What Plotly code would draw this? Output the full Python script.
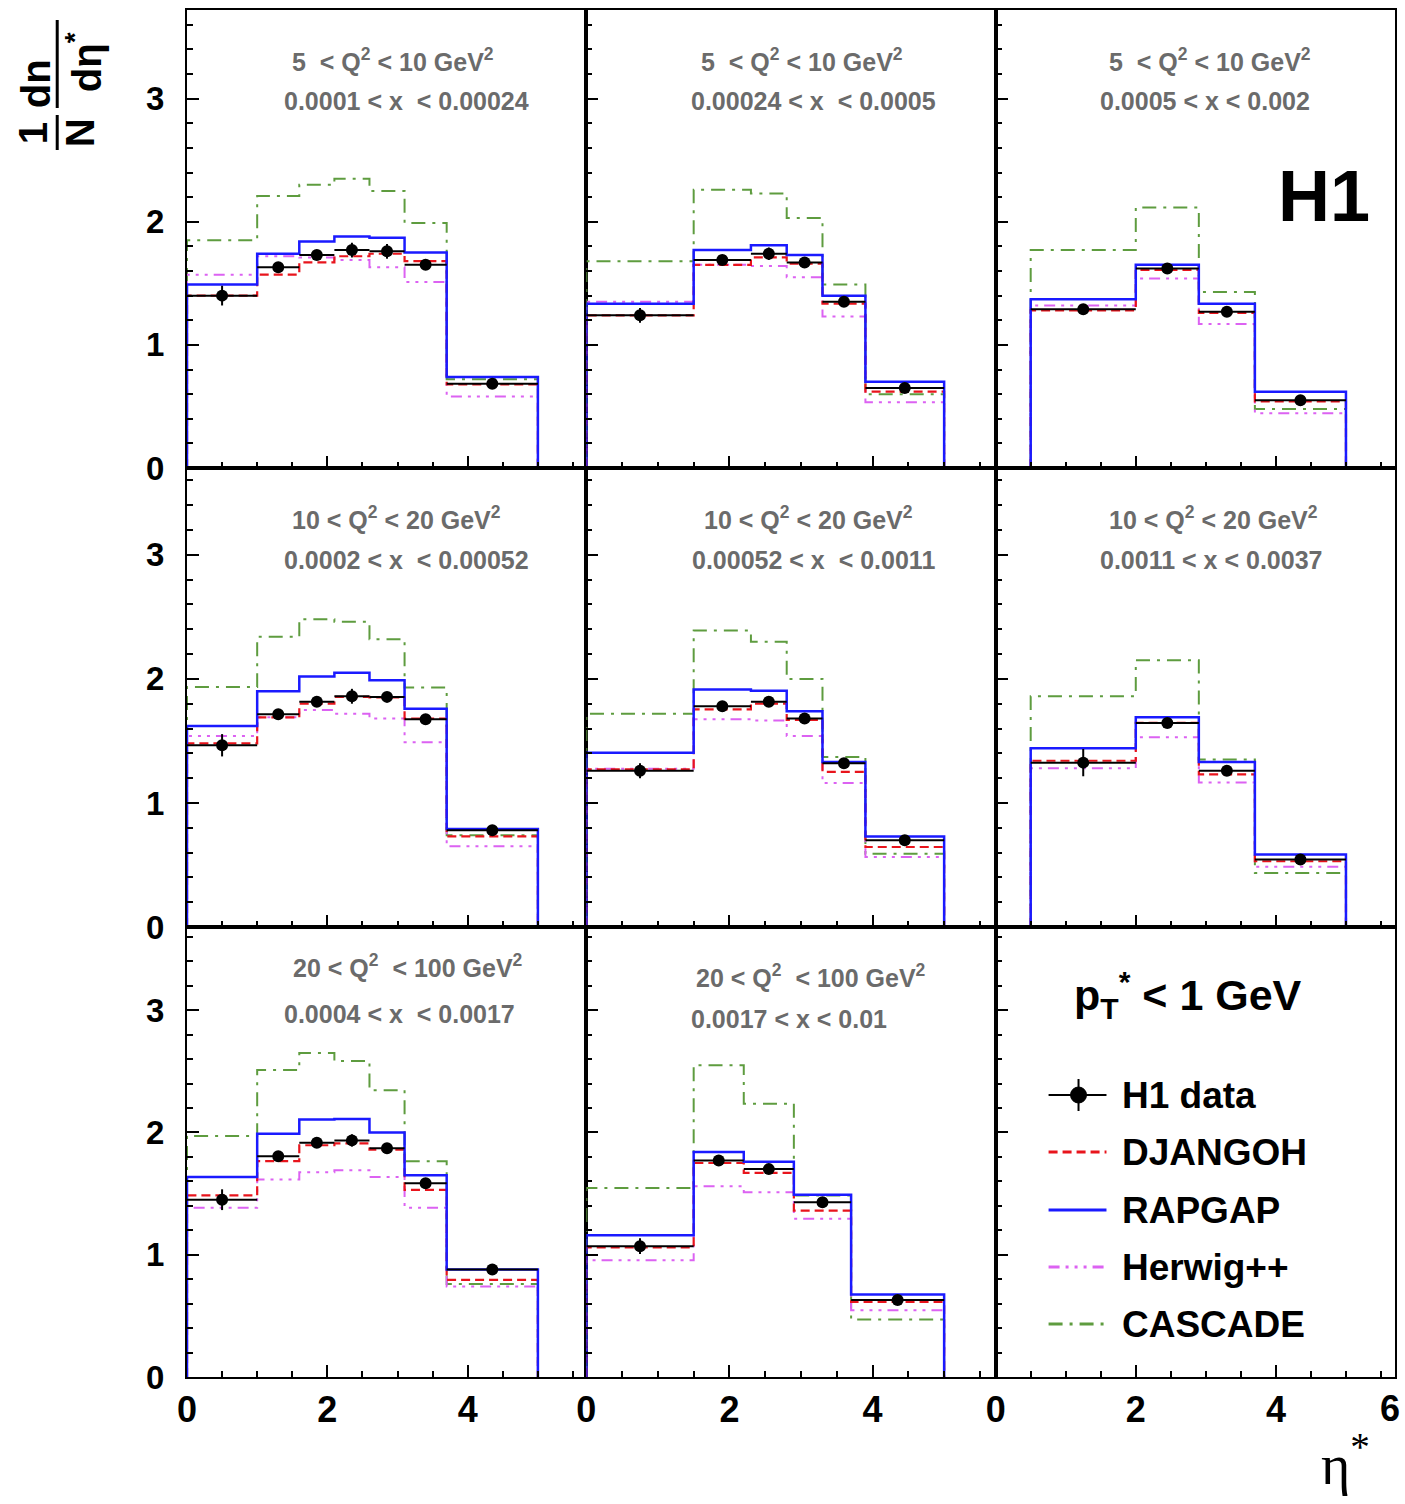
import plotly.graph_objects as go
from plotly.subplots import make_subplots

# ---------------------------------------------------------------------------
# eta* bin edges (differ per x range)
edges_lowx = [0.0, 1.0, 1.6, 2.1, 2.6, 3.1, 3.7, 5.0]
edges_midx = [0.0, 1.5, 2.3, 2.8, 3.3, 3.9, 5.0]
edges_highx = [0.5, 2.0, 2.9, 3.7, 5.0]
edges_q3_highx = [0.0, 1.5, 2.2, 2.9, 3.7, 5.0]

# 5 < Q2 < 10 GeV2, 0.0001 < x < 0.00024
data_1 = [1.40, 1.63, 1.73, 1.77, 1.76, 1.65, 0.685]
err_1 = [0.08, 0.04, 0.04, 0.06, 0.06, 0.03, 0.02]
djangoh_1 = [1.40, 1.57, 1.67, 1.72, 1.74, 1.68, 0.68]
rapgap_1 = [1.49, 1.74, 1.84, 1.88, 1.87, 1.75, 0.74]
herwig_1 = [1.57, 1.72, 1.71, 1.69, 1.63, 1.51, 0.58]
cascade_1 = [1.85, 2.21, 2.30, 2.35, 2.25, 1.99, 0.72]

# 5 < Q2 < 10 GeV2, 0.00024 < x < 0.0005
data_2 = [1.24, 1.69, 1.74, 1.67, 1.35, 0.65]
err_2 = [0.06, 0.04, 0.05, 0.04, 0.04, 0.03]
djangoh_2 = [1.24, 1.65, 1.71, 1.66, 1.335, 0.62]
rapgap_2 = [1.335, 1.77, 1.81, 1.73, 1.40, 0.70]
herwig_2 = [1.35, 1.65, 1.64, 1.55, 1.23, 0.535]
cascade_2 = [1.68, 2.26, 2.23, 2.03, 1.49, 0.60]

# 5 < Q2 < 10 GeV2, 0.0005 < x < 0.002
data_3 = [1.29, 1.62, 1.27, 0.55]
err_3 = [0.04, 0.03, 0.03, 0.02]
djangoh_3 = [1.28, 1.61, 1.26, 0.54]
rapgap_3 = [1.37, 1.65, 1.335, 0.62]
herwig_3 = [1.32, 1.54, 1.17, 0.445]
cascade_3 = [1.77, 2.115, 1.43, 0.48]

# 10 < Q2 < 20 GeV2, 0.0002 < x < 0.00052
data_4 = [1.465, 1.715, 1.815, 1.86, 1.855, 1.675, 0.78]
err_4 = [0.09, 0.04, 0.04, 0.06, 0.04, 0.03, 0.02]
djangoh_4 = [1.48, 1.69, 1.80, 1.855, 1.85, 1.68, 0.73]
rapgap_4 = [1.62, 1.90, 2.02, 2.05, 1.99, 1.76, 0.79]
herwig_4 = [1.54, 1.69, 1.75, 1.72, 1.68, 1.49, 0.65]
cascade_4 = [1.935, 2.34, 2.48, 2.46, 2.32, 1.93, 0.74]

# 10 < Q2 < 20 GeV2, 0.00052 < x < 0.0011
data_5 = [1.26, 1.78, 1.815, 1.68, 1.32, 0.70]
err_5 = [0.06, 0.04, 0.04, 0.04, 0.04, 0.03]
djangoh_5 = [1.27, 1.755, 1.80, 1.67, 1.25, 0.645]
rapgap_5 = [1.405, 1.915, 1.905, 1.74, 1.33, 0.73]
herwig_5 = [1.275, 1.675, 1.665, 1.54, 1.16, 0.565]
cascade_5 = [1.72, 2.39, 2.30, 2.00, 1.37, 0.59]

# 10 < Q2 < 20 GeV2, 0.0011 < x < 0.0037
data_6 = [1.325, 1.645, 1.26, 0.545]
err_6 = [0.11, 0.03, 0.03, 0.02]
djangoh_6 = [1.34, 1.645, 1.23, 0.53]
rapgap_6 = [1.44, 1.69, 1.33, 0.585]
herwig_6 = [1.28, 1.53, 1.165, 0.485]
cascade_6 = [1.86, 2.15, 1.35, 0.435]

# 20 < Q2 < 100 GeV2, 0.0004 < x < 0.0017
data_7 = [1.45, 1.805, 1.915, 1.935, 1.87, 1.585, 0.88]
err_7 = [0.085, 0.04, 0.04, 0.05, 0.04, 0.03, 0.02]
djangoh_7 = [1.485, 1.765, 1.895, 1.91, 1.86, 1.53, 0.795]
rapgap_7 = [1.635, 1.99, 2.105, 2.11, 2.00, 1.65, 0.88]
herwig_7 = [1.385, 1.615, 1.675, 1.69, 1.635, 1.385, 0.74]
cascade_7 = [1.97, 2.51, 2.65, 2.585, 2.345, 1.765, 0.76]

# 20 < Q2 < 100 GeV2, 0.0017 < x < 0.01
data_8 = [1.07, 1.77, 1.70, 1.43, 0.63]
err_8 = [0.065, 0.04, 0.04, 0.04, 0.02]
djangoh_8 = [1.06, 1.75, 1.67, 1.36, 0.615]
rapgap_8 = [1.16, 1.84, 1.76, 1.49, 0.675]
herwig_8 = [0.955, 1.56, 1.51, 1.295, 0.545]
cascade_8 = [1.545, 2.55, 2.235, 1.485, 0.47]

q2_labels = ["5  < Q<sup>2</sup> < 10 GeV<sup>2</sup>",
             "10 < Q<sup>2</sup> < 20 GeV<sup>2</sup>",
             "20 < Q<sup>2</sup>  < 100 GeV<sup>2</sup>"]
x_labels = ["0.0001 < x  < 0.00024", "0.00024 < x  < 0.0005", "0.0005 < x < 0.002",
            "0.0002 < x  < 0.00052", "0.00052 < x  < 0.0011", "0.0011 < x < 0.0037",
            "0.0004 < x  < 0.0017", "0.0017 < x < 0.01"]

panels = [
    (1, 1, edges_lowx, data_1, err_1, djangoh_1, rapgap_1, herwig_1, cascade_1),
    (1, 2, edges_midx, data_2, err_2, djangoh_2, rapgap_2, herwig_2, cascade_2),
    (1, 3, edges_highx, data_3, err_3, djangoh_3, rapgap_3, herwig_3, cascade_3),
    (2, 1, edges_lowx, data_4, err_4, djangoh_4, rapgap_4, herwig_4, cascade_4),
    (2, 2, edges_midx, data_5, err_5, djangoh_5, rapgap_5, herwig_5, cascade_5),
    (2, 3, edges_highx, data_6, err_6, djangoh_6, rapgap_6, herwig_6, cascade_6),
    (3, 1, edges_lowx, data_7, err_7, djangoh_7, rapgap_7, herwig_7, cascade_7),
    (3, 2, edges_q3_highx, data_8, err_8, djangoh_8, rapgap_8, herwig_8, cascade_8),
]

# ---------------------------------------------------------------------------
FONT = "Liberation Sans, Arial, Helvetica, sans-serif"
W, H = 1405, 1504
ML, MR, MT, MB = 187, 8, 10, 127
col_w = [400, 410, 400]
row_h = [458, 459, 450]
x_ranges = [[0, 5.69], [0, 5.72], [0, 5.70]]
y_ranges = [[0, 3.72], [0, 3.70], [0, 3.68]]
PW = W - ML - MR
PH = H - MT - MB

styles = {
    "CASCADE": dict(color="#5e9c3f", width=2, dash="14px,7px,3px,7px"),
    "Herwig++": dict(color="#dc62f2", width=2, dash="11px,6px,3px,6px,3px,6px,3px,6px"),
    "DJANGOH": dict(color="#e8141c", width=2.2, dash="9px,5px"),
    "RAPGAP": dict(color="#1a1aff", width=2.5, dash="solid"),
}


def px(x):
    return (x - ML) / PW


def py(y):
    return (H - MB - y) / PH


def step_xy(edges, vals):
    xs = [edges[0]] + list(edges)
    ys = [0] + list(vals) + [0]
    return xs, ys


fig = make_subplots(rows=3, cols=3, column_widths=col_w, row_heights=row_h,
                    horizontal_spacing=0, vertical_spacing=0)

for (r, c, edges, data, err, dj, rg, hw, cs) in panels:
    for name, vals in (("CASCADE", cs), ("Herwig++", hw), ("DJANGOH", dj), ("RAPGAP", rg)):
        xs, ys = step_xy(edges, vals)
        fig.add_trace(go.Scatter(x=xs, y=ys, mode="lines", line_shape="hv",
                                 line=styles[name], name=name, showlegend=False,
                                 hoverinfo="skip"), row=r, col=c)
    centers = [(a + b) / 2 for a, b in zip(edges[:-1], edges[1:])]
    halfw = [(b - a) / 2 for a, b in zip(edges[:-1], edges[1:])]
    fig.add_trace(go.Scatter(
        x=centers, y=data, mode="markers", name="H1 data", showlegend=False,
        marker=dict(color="black", size=12),
        error_x=dict(type="data", array=halfw, width=0, thickness=2, color="black"),
        error_y=dict(type="data", array=err, width=0, thickness=2, color="black"),
    ), row=r, col=c)

# the legend panel keeps its frame and bottom axis
fig.add_trace(go.Scatter(x=[None], y=[None], mode="lines", showlegend=False,
                         hoverinfo="skip"), row=3, col=3)

for r in range(1, 4):
    for c in range(1, 4):
        fig.update_xaxes(
            row=r, col=c, range=x_ranges[c - 1], tickmode="linear", tick0=0, dtick=2,
            showline=True, mirror=True, linecolor="black", linewidth=2,
            ticks="inside", ticklen=12, tickwidth=1.5, tickcolor="black",
            minor=dict(ticks="inside", ticklen=6, dtick=0.5, tick0=0,
                       tickwidth=1.5, tickcolor="black"),
            showgrid=False, zeroline=False, showticklabels=(r == 3),
            tickfont=dict(family=FONT, size=36, color="black", weight="bold"),
            ticklabelstandoff=0,
        )
        fig.update_yaxes(
            row=r, col=c, range=y_ranges[r - 1], tickmode="linear", tick0=0, dtick=1,
            showline=True, mirror=True, linecolor="black", linewidth=2,
            ticks="inside", ticklen=12, tickwidth=1.5, tickcolor="black",
            minor=dict(ticks="inside", ticklen=6, dtick=0.2, tick0=0,
                       tickwidth=1.5, tickcolor="black"),
            showgrid=False, zeroline=False, showticklabels=(c == 1),
            tickfont=dict(family=FONT, size=33, color="black", weight="bold"),
            ticklabelstandoff=14,
        )

annotations = []


def text(x, y, s, size, color="black", angle=0, xanchor="center", family=FONT, weight="bold"):
    annotations.append(dict(x=px(x), y=py(y), xref="paper", yref="paper", text=s,
                            showarrow=False, xanchor=xanchor, yanchor="middle",
                            textangle=angle,
                            font=dict(family=family, size=size, color=color, weight=weight)))


# panel headings
GREY = "#6b6b6b"
heading_pos = [
    ((393, 60), (407, 101)), ((803, 60), (815, 101)), ((1212, 60), (1207, 101)),
    ((397, 518), (407, 560)), ((810, 518), (815, 560)), ((1215, 518), (1213, 560)),
    ((408, 966), (400, 1014)), ((812, 976), (790, 1019)),
]
for i, ((qx, qy), (xx, xy)) in enumerate(heading_pos):
    text(qx, qy, q2_labels[i // 3], 25, GREY)
    text(xx, xy, x_labels[i], 25, GREY)

# extra end label on the last bottom axis
text(1392, 1408, "6", 36)

# experiment tag and kinematic cut
text(1326, 196, "H1", 72)
text(1190, 995, "p<sub>T</sub><sup>*</sup> < 1 GeV", 43)

# axis titles
text(1347, 1460, "η<sup>*</sup>", 56, family="Liberation Serif, DejaVu Serif, serif", weight="normal")
text(33, 133, "1", 40, angle=-90)
text(80, 133, "N", 40, angle=-90)
text(36, 84, "dn", 40, angle=-90)
text(84, 62, "dη<sup>*</sup>", 40, angle=-90)

shapes = [
    dict(type="line", xref="paper", yref="paper", x0=px(57), x1=px(57), y0=py(115), y1=py(150),
         line=dict(color="black", width=3)),
    dict(type="line", xref="paper", yref="paper", x0=px(57), x1=px(57), y0=py(20), y1=py(108),
         line=dict(color="black", width=3)),
]

# legend
legend_rows = [("H1 data", 1095), ("DJANGOH", 1152), ("RAPGAP", 1210),
               ("Herwig++", 1267), ("CASCADE", 1324)]
for name, yy in legend_rows:
    text(1122, yy, name, 37, xanchor="left")
    if name == "H1 data":
        shapes.append(dict(type="line", xref="paper", yref="paper", x0=px(1050), x1=px(1108),
                           y0=py(yy), y1=py(yy), line=dict(color="black", width=2)))
        shapes.append(dict(type="line", xref="paper", yref="paper", x0=px(1080), x1=px(1080),
                           y0=py(yy - 16), y1=py(yy + 16), line=dict(color="black", width=2)))
        shapes.append(dict(type="circle", xref="paper", yref="paper", x0=px(1072), x1=px(1088),
                           y0=py(yy + 8), y1=py(yy - 8), fillcolor="black",
                           line=dict(color="black", width=1)))
    else:
        st = styles[name]
        shapes.append(dict(type="line", xref="paper", yref="paper", x0=px(1050), x1=px(1108),
                           y0=py(yy), y1=py(yy),
                           line=dict(color=st["color"], width=3, dash=st["dash"])))

fig.update_layout(
    width=W, height=H, autosize=False,
    margin=dict(l=ML, r=MR, t=MT, b=MB, pad=0),
    paper_bgcolor="white", plot_bgcolor="white",
    showlegend=False, annotations=annotations, shapes=shapes,
    font=dict(family=FONT),
)

fig.write_html("out.html")
